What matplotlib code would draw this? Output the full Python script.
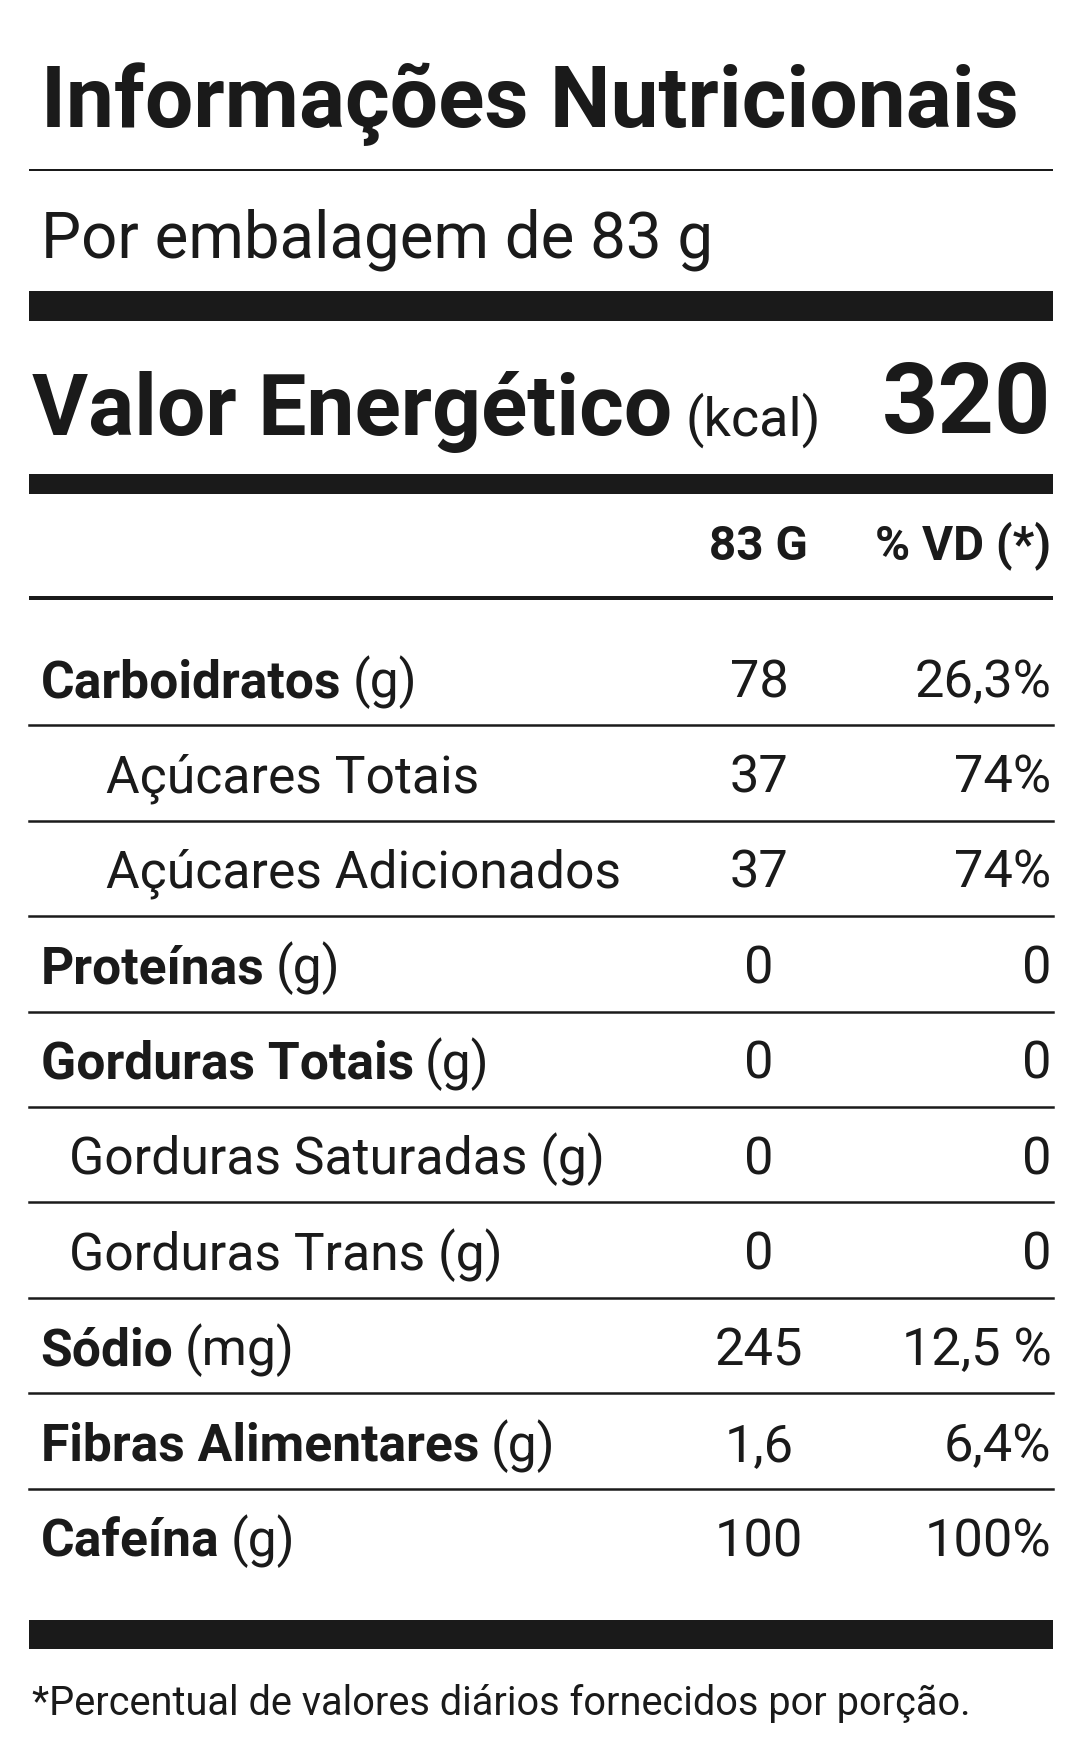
import matplotlib
matplotlib.use("Agg")
import matplotlib.pyplot as plt

# data
names = ["Carboidratos", "Açúcares Totais", "Açúcares Adicionados", "Proteínas",
         "Gorduras Totais", "Gorduras Saturadas (g)", "Gorduras Trans (g)",
         "Sódio", "Fibras Alimentares", "Cafeína"]
units = ["(g)", "", "", "(g)", "(g)", "", "", "(mg)", "(g)", "(g)"]
amounts = ["78", "37", "37", "0", "0", "0", "0", "245", "1,6", "100"]
pct_vd = ["26,3%", "74%", "74%", "0", "0", "0", "0", "12,5 %", "6,4%", "100%"]
bold = [True, False, False, True, True, False, False, True, True, True]
indent = [0, 58, 58, 0, 0, 25, 25, 0, 0, 0]

W, H = 960, 1562
s = 1083 / 960
fig = plt.figure(figsize=(10.83, 17.62), dpi=100)
ax = fig.add_axes([0, 0, 1, 1])
ax.set_xlim(0, W)
ax.set_ylim(H, 0)
ax.axis("off")
FONT = "Roboto"
C = "#1a1a1a"

def fs(px):  # display cap height px -> points
    return px * s / 0.71 * 0.72

def hbar(y0, y1):
    ax.fill_between([26, 933], y0, y1, color=C, lw=0)

def txt(x, y, t, size, weight="normal", ha="left"):
    return ax.text(x, y, t, fontsize=fs(size), fontweight=weight, ha=ha,
                   va="baseline", color=C, family=FONT)

r = fig.canvas.get_renderer()
def after(t):
    bb = t.get_window_extent(r)
    return ax.transData.inverted().transform((bb.x1, bb.y0))[0]

txt(36, 113, "Informações Nutricionais", 54, "bold")
hbar(149.5, 151.5)
txt(36, 228, "Por embalagem de 83 g", 40)
hbar(258, 285)
t = txt(28, 386, "Valor Energético", 54, "bold")
txt(after(t) + 12, 386, "(kcal)", 34)
txt(932, 384, "320", 62, "bold", ha="right")
hbar(420, 438)
txt(672, 496, "83 G", 30, "bold", ha="center")
txt(932, 496, "% VD (*)", 30, "bold", ha="right")
hbar(528, 532)

for i in range(len(names)):
    yb = 618 + i * 84.6
    x0 = 36 + indent[i]
    t = txt(x0, yb, names[i], 32.5, "bold" if bold[i] else "normal")
    if units[i]:
        txt(after(t) + 10, yb, units[i], 32.5)
    txt(673, yb, amounts[i], 33, ha="center")
    txt(932, yb, pct_vd[i], 33, ha="right")
    if i < len(names) - 1:
        ax.plot([26, 933], [643 + i * 84.6] * 2, color=C, lw=1.8)

hbar(1436, 1462)
txt(28, 1520, "*Percentual de valores diários fornecidos por porção.", 25)

fig.savefig("out.png", dpi=100, facecolor="white")
